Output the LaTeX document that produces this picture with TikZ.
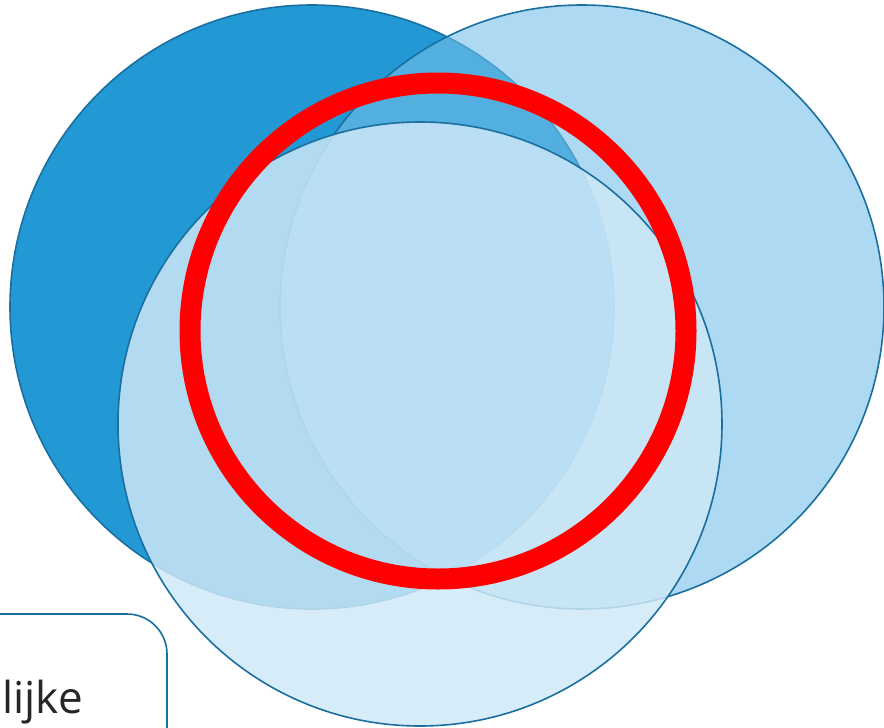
\documentclass[tikz,border=0pt]{standalone}
\usepackage{fontspec}
\setmainfont{Open Sans}
\usetikzlibrary{positioning}
\definecolor{darkblue}{HTML}{2299D5}
\definecolor{midblue}{RGB}{116,192,233}
\definecolor{paleblue}{RGB}{206,232,247}
\definecolor{edgeblue}{HTML}{1A6FA0}
\definecolor{labelgray}{HTML}{262626}

\begin{document}
\begin{tikzpicture}[x=1pt,y=-1pt,
		set/.style={circle,draw=edgeblue,line width=1.6pt,inner sep=0pt,minimum size=604pt}]
			\useasboundingbox (0,0) rectangle (884,728);
			\clip (0,0) rectangle (884,728);
			
			\node[set,fill=darkblue] (dark) at (312,307) {};
			\node[set,fill=midblue,fill opacity=0.59] (right) at (582,307) {};
			\node[set,fill=paleblue,fill opacity=0.84] (bottom) at (420,424) {};
			
			\node[circle,draw=red,line width=21pt,inner sep=0pt,minimum size=496pt] (ring) at (438,331) {};
			
			\draw[edgeblue,line width=1.6pt,fill=white,rounded corners=40pt] (-60,614) rectangle (167,800);
			\node[anchor=base east,inner sep=0pt,text=labelgray,font=\fontsize{44}{53}\selectfont] (label) at (83,713) {lijke};
			
		\end{tikzpicture}
\end{document}
